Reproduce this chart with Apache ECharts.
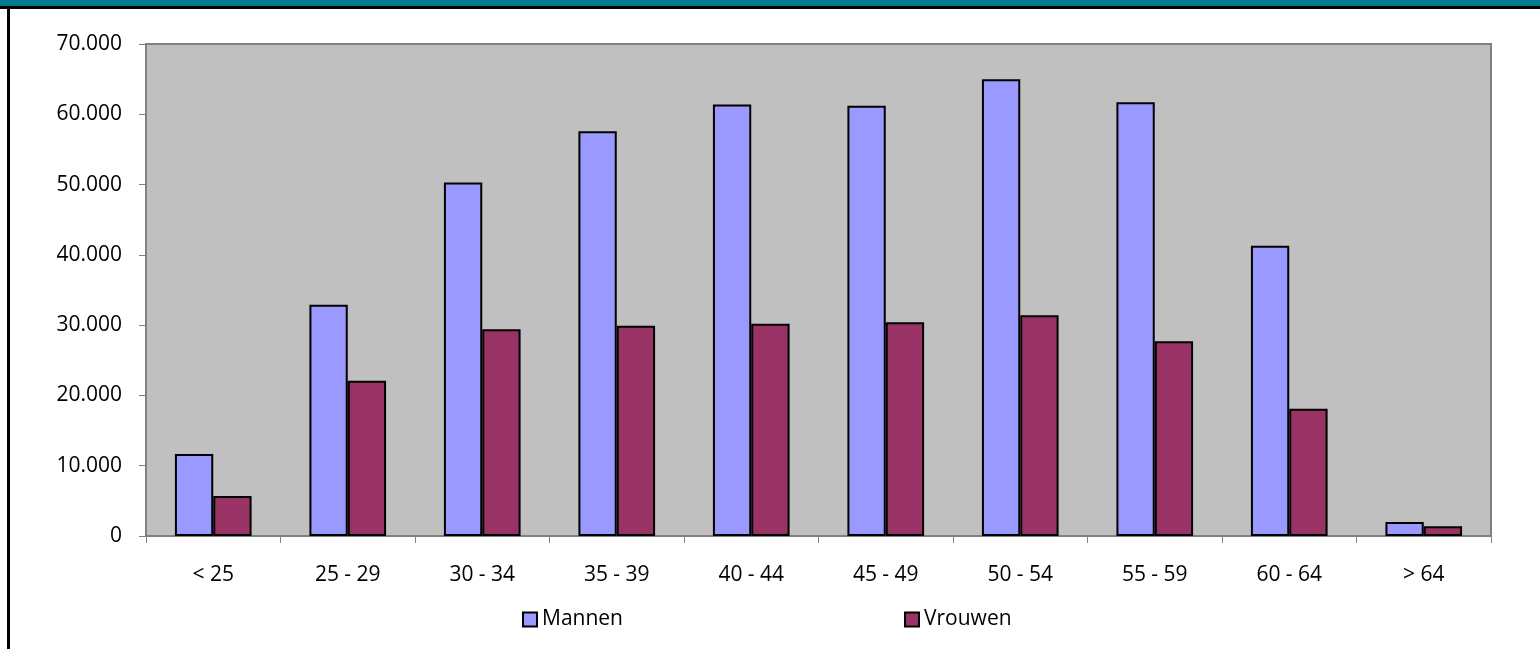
<!DOCTYPE html>
<html>
<head>
<meta charset="utf-8">
<script src="https://cdn.jsdelivr.net/npm/echarts@6/dist/echarts.min.js"></script>
<style>
html,body{margin:0;padding:0;background:#fff;}
#chart{width:1540px;height:649px;}
</style>
</head>
<body>
<div id="chart"></div>
<script>
const categories = ['< 25','25 - 29','30 - 34','35 - 39','40 - 44','45 - 49','50 - 54','55 - 59','60 - 64','> 64'];
const mannen = [11650, 32900, 50300, 57600, 61400, 61200, 65000, 61700, 41300, 2000];
const vrouwen = [5700, 22100, 29400, 29900, 30200, 30400, 31400, 27700, 18100, 1400];
const yTicks = [0, 10000, 20000, 30000, 40000, 50000, 60000, 70000];

const FONT = 'Open Sans';
const chart = echarts.init(document.getElementById('chart'));
function fmt(v){ return v === 0 ? '0' : String(v).replace(/\B(?=(\d{3})+(?!\d))/g, '.'); }

chart.setOption({
  animation: false,
  textStyle: { fontFamily: FONT },
  graphic: [
    { type: 'rect', shape: { x: 0, y: 0, width: 1540, height: 6 }, style: { fill: '#007890' } },
    { type: 'rect', shape: { x: 0, y: 6, width: 1540, height: 3 }, style: { fill: '#000' } },
    { type: 'rect', shape: { x: 7, y: 6, width: 3, height: 643 }, style: { fill: '#000' } }
  ],
  legend: [
    { data: [{ name: 'Mannen', icon: 'rect' }], left: 517, top: 604, itemWidth: 14, itemHeight: 14, itemGap: 5,
      itemStyle: { borderColor: '#000', borderWidth: 2 },
      textStyle: { fontFamily: FONT, fontSize: 21, color: '#000' } },
    { data: [{ name: 'Vrouwen', icon: 'rect' }], left: 899, top: 604, itemWidth: 14, itemHeight: 14, itemGap: 5,
      itemStyle: { borderColor: '#000', borderWidth: 2 },
      textStyle: { fontFamily: FONT, fontSize: 21, color: '#000' } }
  ],
  grid: { left: 146, right: 49, top: 44, bottom: 113, show: true,
          backgroundColor: '#C0C0C0', borderColor: '#808080', borderWidth: 2 },
  xAxis: {
    type: 'category', data: categories, boundaryGap: true,
    axisLine: { lineStyle: { color: '#808080', width: 1.5 } },
    axisTick: { show: true, length: 7, lineStyle: { color: '#808080' }, alignWithLabel: false },
    axisLabel: { color: '#000', fontSize: 21, margin: 29, fontFamily: FONT }
  },
  yAxis: {
    type: 'value', min: 0, max: 70000, interval: 10000,
    axisLine: { show: true, lineStyle: { color: '#808080', width: 1.5 } },
    axisTick: { show: true, length: 7, lineStyle: { color: '#808080' } },
    splitLine: { show: false },
    axisLabel: { color: '#000', fontSize: 21, margin: 24, fontFamily: FONT, formatter: fmt }
  },
  series: [
    { name: 'Mannen', type: 'bar', data: mannen, barGap: '0%', barCategoryGap: '43%',
      itemStyle: { color: '#9999FF', borderColor: '#000', borderWidth: 2 } },
    { name: 'Vrouwen', type: 'bar', data: vrouwen, barGap: '0%', barCategoryGap: '43%',
      itemStyle: { color: '#993366', borderColor: '#000', borderWidth: 2 } }
  ]
});
</script>
</body>
</html>
